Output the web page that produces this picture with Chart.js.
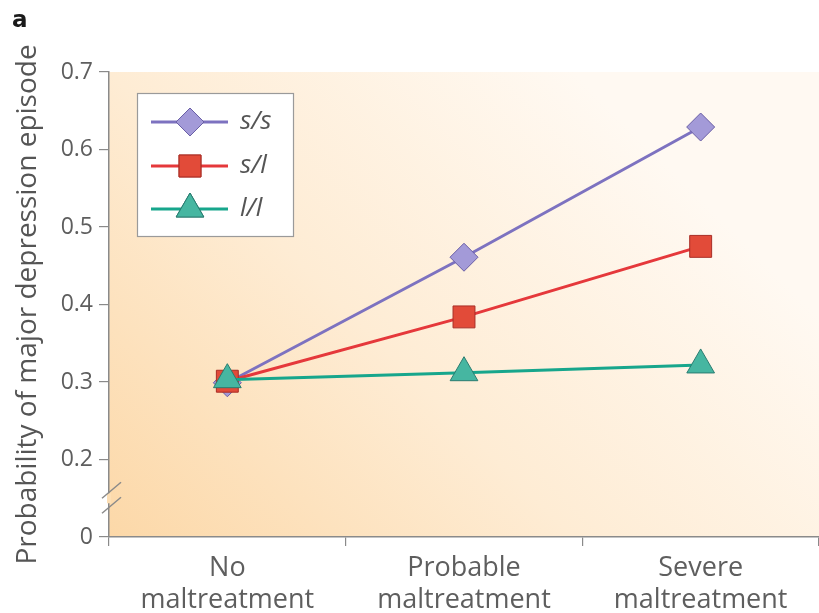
<!DOCTYPE html>
<html>
<head>
<meta charset="utf-8">
<script src="https://cdn.jsdelivr.net/npm/chart.js@4.4.1/dist/chart.umd.min.js"></script>
<style>
  html, body { margin: 0; padding: 0; background: #ffffff; overflow: hidden; }
  #wrap { width: 819px; height: 613px; position: relative; }
  canvas { display: block; }
</style>
</head>
<body>
<div id="wrap"><canvas id="chart" width="819" height="613"></canvas></div>
<script>
// categories and series
const categories = [["No", "maltreatment"], ["Probable", "maltreatment"], ["Severe", "maltreatment"]];
const seriesNames = ["s/s", "s/l", "l/l"];
const ssValues = [0.299, 0.461, 0.629];
const slValues = [0.301, 0.384, 0.475];
const llValues = [0.303, 0.312, 0.322];
const yTicks = [0.1, 0.2, 0.3, 0.4, 0.5, 0.6, 0.7]; // 0.1 is shown as "0" (broken axis)

const FONT = "'Open Sans', 'Noto Sans', sans-serif";
const GREY = "#5e5e5e";
const AXIS = "#8a8a8a";

const styles = [
  { line: "#7d72c0", fill: "#a39ad8", border: "#6a5fa6", point: "rectRot", radius: 14 },
  { line: "#e5383b", fill: "#e24b39", border: "#a92d25", point: "rect", radius: 15.5 },
  { line: "#17a68c", fill: "#46b6a1", border: "#2a7c70", point: "triangle", radius: 16 },
];

// orange-to-white background inside the plot
const backgroundPlugin = {
  id: "plotBackground",
  beforeDraw(chart) {
    const { ctx, chartArea: a } = chart;
    const g = ctx.createLinearGradient(a.left, a.bottom, a.left + (a.bottom - a.top), a.top);
    g.addColorStop(0, "#fcd8a8");
    g.addColorStop(0.5, "#feecd4");
    g.addColorStop(1, "#fff9f2");
    ctx.save();
    ctx.fillStyle = g;
    ctx.fillRect(a.left, a.top, a.right - a.left, a.bottom - a.top);
    ctx.restore();
  },
};

// panel letter, axis break marks and the boxed legend
const extrasPlugin = {
  id: "extras",
  afterDraw(chart) {
    const { ctx, chartArea: a } = chart;
    const y = chart.scales.y;
    ctx.save();

    ctx.fillStyle = "#1a1a1a";
    ctx.font = "bold 23px 'DejaVu Sans', sans-serif";
    ctx.textBaseline = "alphabetic";
    ctx.fillText("a", 12, 27);

    // break marks on the y axis
    const yb = y.getPixelForValue(0.15);
    ctx.strokeStyle = "#fddfb5";
    ctx.lineWidth = 4;
    ctx.beginPath();
    ctx.moveTo(a.left, yb - 5);
    ctx.lineTo(a.left, yb + 5);
    ctx.stroke();
    ctx.strokeStyle = AXIS;
    ctx.lineWidth = 1.5;
    [-7, 8].forEach((d) => {
      ctx.beginPath();
      ctx.moveTo(a.left - 7, yb + d + 7);
      ctx.lineTo(a.left + 12, yb + d - 9);
      ctx.stroke();
    });

    // legend
    const bx = 137, by = 93, bw = 156, bh = 143;
    ctx.fillStyle = "#ffffff";
    ctx.fillRect(bx, by, bw, bh);
    ctx.strokeStyle = "#9a9a9a";
    ctx.lineWidth = 1.2;
    ctx.strokeRect(bx + 0.5, by + 0.5, bw, bh);
    const rows = [122, 166, 209];
    seriesNames.forEach((name, i) => {
      const s = styles[i];
      const ry = rows[i];
      ctx.strokeStyle = s.line;
      ctx.lineWidth = 3;
      ctx.beginPath();
      ctx.moveTo(151, ry);
      ctx.lineTo(228, ry);
      ctx.stroke();
      ctx.fillStyle = s.fill;
      ctx.strokeStyle = s.border;
      ctx.lineWidth = 1;
      Chart.helpers.drawPoint(ctx, { pointStyle: s.point, radius: s.radius, borderWidth: 1 }, 190, ry);
      ctx.fill();
      ctx.stroke();
      ctx.fillStyle = "#555";
      ctx.font = "italic 26px " + FONT;
      ctx.textBaseline = "middle";
      ctx.fillText(name, 240, ry);
    });
    ctx.restore();
  },
};

function makeDataset(label, data, s, order) {
  return {
    label: label,
    data: data,
    order: order,
    borderColor: s.line,
    borderWidth: 3,
    backgroundColor: s.fill,
    pointStyle: s.point,
    pointRadius: s.radius,
    pointHoverRadius: s.radius,
    pointBackgroundColor: s.fill,
    pointBorderColor: s.border,
    pointBorderWidth: 1,
    tension: 0,
    fill: false,
  };
}

new Chart(document.getElementById("chart").getContext("2d"), {
  type: "line",
  data: {
    labels: categories,
    datasets: [
      makeDataset(seriesNames[0], ssValues, styles[0], 3),
      makeDataset(seriesNames[1], slValues, styles[1], 2),
      makeDataset(seriesNames[2], llValues, styles[2], 1),
    ],
  },
  options: {
    responsive: false,
    animation: false,
    layout: { autoPadding: false, padding: { top: 72, left: 0, right: 0, bottom: 0 } },
    plugins: {
      legend: { display: false },
      tooltip: { enabled: false },
    },
    scales: {
      x: {
        type: "category",
        offset: true,
        afterFit(scale) {
          scale.height = 76;
          scale.paddingLeft = 0;
          scale.paddingRight = 0;
        },
        grid: { offset: true, drawOnChartArea: false, tickLength: 9, color: AXIS, lineWidth: 1.2 },
        border: { display: true, color: AXIS, width: 1.5 },
        ticks: {
          color: GREY,
          font: { family: FONT, size: 27, lineHeight: 1.2 },
          padding: 6,
          maxRotation: 0,
          autoSkip: false,
        },
      },
      y: {
        min: 0.1,
        max: 0.7,
        afterFit(scale) { scale.width = 109; },
        afterBuildTicks(scale) { scale.ticks = yTicks.map((v) => ({ value: v })); },
        grid: { drawOnChartArea: false, tickLength: 10, color: AXIS, lineWidth: 1.2 },
        border: { display: true, color: AXIS, width: 1.5 },
        ticks: {
          color: GREY,
          font: { family: FONT, size: 23 },
          padding: 6,
          callback: (v) => (v < 0.15 ? "0" : Number(v).toFixed(1)),
        },
        title: {
          display: true,
          text: "Probability of major depression episode",
          color: "#555",
          font: { family: FONT, size: 28 },
          padding: { top: 11, bottom: 0 },
        },
      },
    },
  },
  plugins: [backgroundPlugin, extrasPlugin],
});
</script>
</body>
</html>
